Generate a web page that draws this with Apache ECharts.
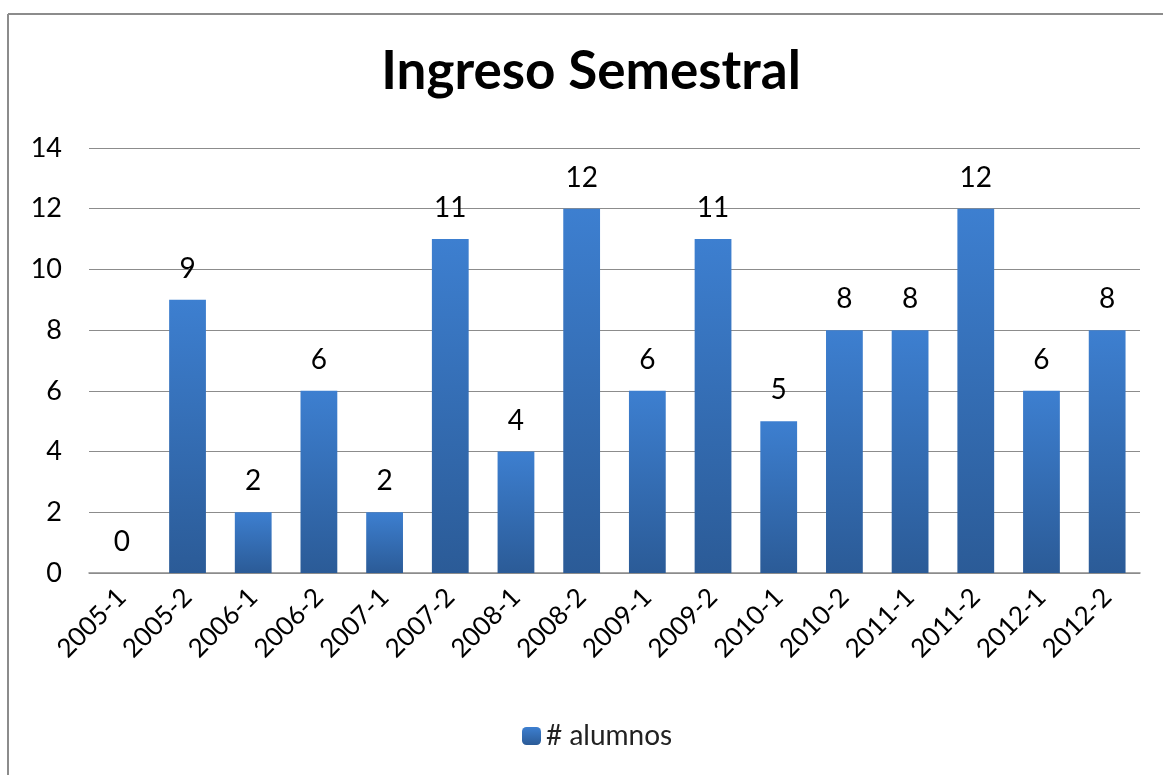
<!DOCTYPE html>
<html>
<head>
<meta charset="utf-8">
<script src="https://cdn.jsdelivr.net/npm/echarts@6/dist/echarts.min.js"></script>
<style>
html,body{margin:0;padding:0;background:#fff;}
#c{width:1163px;height:775px;}
</style>
</head>
<body>
<div id="c"></div>
<script>
const categories = ["2005-1","2005-2","2006-1","2006-2","2007-1","2007-2","2008-1","2008-2","2009-1","2009-2","2010-1","2010-2","2011-1","2011-2","2012-1","2012-2"];
const alumnos = [0,9,2,6,2,11,4,12,6,11,5,8,8,12,6,8];
const seriesName = "# alumnos";
const titleText = "Ingreso Semestral";

const FONT = "Lato, 'Open Sans', sans-serif";
const chart = echarts.init(document.getElementById('c'), null, {renderer:'canvas'});
chart.setOption({
  backgroundColor:'#fff',
  animation:false,
  title:{
    text:titleText, left:586, top:40, textAlign:'center',
    textStyle:{fontFamily:FONT, fontWeight:'bold', fontSize:53, color:'#000'}
  },
  graphic:[
    {type:'line', shape:{x1:8,y1:14,x2:1163,y2:14}, style:{stroke:'#8c8c8c', lineWidth:2}},
    {type:'line', shape:{x1:8,y1:14,x2:8,y2:775}, style:{stroke:'#8c8c8c', lineWidth:2}}
  ],
  grid:{left:89, right:23, top:148, bottom:202},
  legend:{
    data:[seriesName], left:517, top:717, itemWidth:19, itemHeight:18, itemGap:6,
    textStyle:{fontFamily:FONT, fontSize:28, color:'#222'}
  },
  xAxis:{
    type:'category', data:categories,
    axisLine:{lineStyle:{color:'#8c8c8c', width:1.5}},
    axisTick:{show:false},
    axisLabel:{rotate:45, fontFamily:FONT, fontSize:26, color:'#000', margin:20, interval:0}
  },
  yAxis:{
    type:'value', min:0, max:14, interval:2,
    axisLine:{show:false}, axisTick:{show:false},
    splitLine:{lineStyle:{color:'#8c8c8c', width:1.2}},
    axisLabel:{fontFamily:FONT, fontSize:27, color:'#000', margin:27}
  },
  series:[{
    name:seriesName, type:'bar', data:alumnos, barCategoryGap:'44%',
    itemStyle:{color:new echarts.graphic.LinearGradient(0,0,0,1,[
      {offset:0,color:'#3d7fd0'},{offset:1,color:'#2b5b97'}])},
    label:{show:true, position:'top', distance:17, fontFamily:FONT, fontSize:28, color:'#000'}
  }]
});
</script>
</body>
</html>
